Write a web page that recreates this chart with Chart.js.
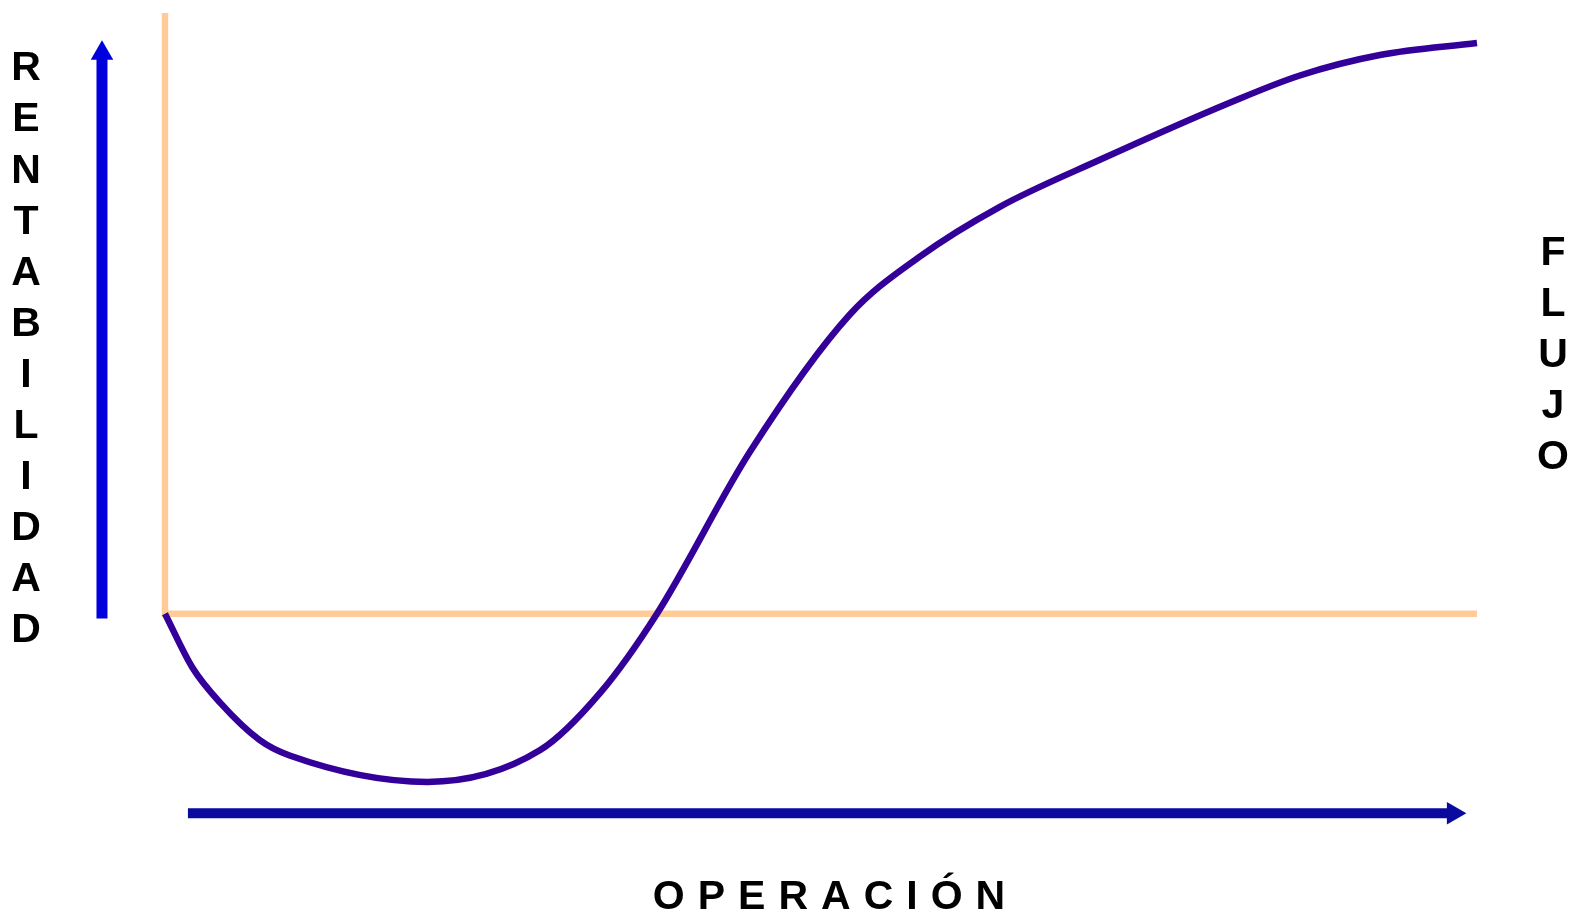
<!doctype html>
<html lang="es">
<head>
<meta charset="utf-8">
<title>Rentabilidad / Flujo / Operación</title>
<style>
  * { margin: 0; padding: 0; }
  body { background: #ffffff; }
  #myChart { display: block; }
</style>
</head>
<body>
<canvas id="myChart" width="1572" height="915"></canvas>
<script src="https://cdn.jsdelivr.net/npm/chart.js"></script>
<script>
// data (x: operación 0..100, y: rentabilidad, 0 = eje)
const curveX = [0, 2.1, 4.2, 7.2, 9.5, 20.0, 28.6, 33.2, 37.5, 44.6, 52.2, 57.5, 63.6, 71.3, 81.2, 86.5, 92.6, 100];
const curveY = [0, -9.0, -14.8, -21.0, -23.6, -28.0, -22.7, -13.1, 0, 27.0, 49.8, 59.4, 67.7, 75.6, 85.1, 89.6, 93.0, 95.0];

const axisX = [0, 0, 100];
const axisY = [100, 0, 0];

const upArrowX = [-4.8, -4.8];
const upArrowY = [-0.8, 93.3];
const rightArrowX = [1.75, 98.2];
const rightArrowY = [-33.2, -33.2];

const leftLabel = 'RENTABILIDAD';
const rightLabel = 'FLUJO';
const bottomLabel = 'OPERACIÓN';

function pts(xs, ys) {
    return xs.map(function (x, i) { return { x: x, y: ys[i] }; });
}

// vertical / spaced labels
const labelsPlugin = {
    id: 'labels',
    afterDraw: function (chart) {
        const ctx = chart.ctx;
        ctx.save();
        ctx.fillStyle = '#000000';
        ctx.font = 'bold 41px "Liberation Sans", Arial, sans-serif';
        ctx.textAlign = 'center';
        ctx.textBaseline = 'middle';
        leftLabel.split('').forEach(function (ch, i) {
            ctx.fillText(ch, 26, 69 + i * 51.1);
        });
        rightLabel.split('').forEach(function (ch, i) {
            ctx.fillText(ch, 1553, 254 + i * 51);
        });
        ctx.letterSpacing = '13px';
        ctx.textAlign = 'left';
        const w = ctx.measureText(bottomLabel).width - 13;
        ctx.fillText(bottomLabel, 829 - w / 2, 898);
        ctx.restore();
    }
};

const data = {
    datasets: [
        {
            label: 'ejes',
            data: pts(axisX, axisY),
            borderColor: '#FFCC99',
            borderWidth: 6.5,
            pointRadius: 0,
            clip: false,
            order: 3
        },
        {
            label: 'flujo',
            data: pts(curveX, curveY),
            borderColor: '#330099',
            borderWidth: 6.5,
            pointRadius: 0,
            cubicInterpolationMode: 'monotone',
            clip: false,
            order: 1
        },
        {
            label: 'rentabilidad',
            data: pts(upArrowX, upArrowY),
            borderColor: '#0000DD',
            backgroundColor: '#0000DD',
            borderWidth: 11,
            pointRadius: [0, 13],
            pointBorderWidth: 0,
            pointStyle: 'triangle',
            pointRotation: 0,
            clip: false,
            order: 2
        },
        {
            label: 'operacion',
            data: pts(rightArrowX, rightArrowY),
            borderColor: '#0A0A9E',
            backgroundColor: '#0A0A9E',
            borderWidth: 10,
            pointRadius: [0, 13],
            pointBorderWidth: 0,
            pointStyle: 'triangle',
            pointRotation: 90,
            clip: false,
            order: 2
        }
    ]
};

const config = {
    type: 'line',
    data: data,
    options: {
        responsive: false,
        animation: false,
        events: [],
        layout: { padding: { left: 60, right: 95, top: 10, bottom: 61 } },
        plugins: {
            legend: { display: false },
            tooltip: { enabled: false }
        },
        scales: {
            x: { type: 'linear', min: -8, max: 100, display: false },
            y: { type: 'linear', min: -40, max: 100, display: false }
        }
    },
    plugins: [labelsPlugin]
};

window.chart = new Chart(document.getElementById('myChart'), config);
</script>
</body>
</html>
